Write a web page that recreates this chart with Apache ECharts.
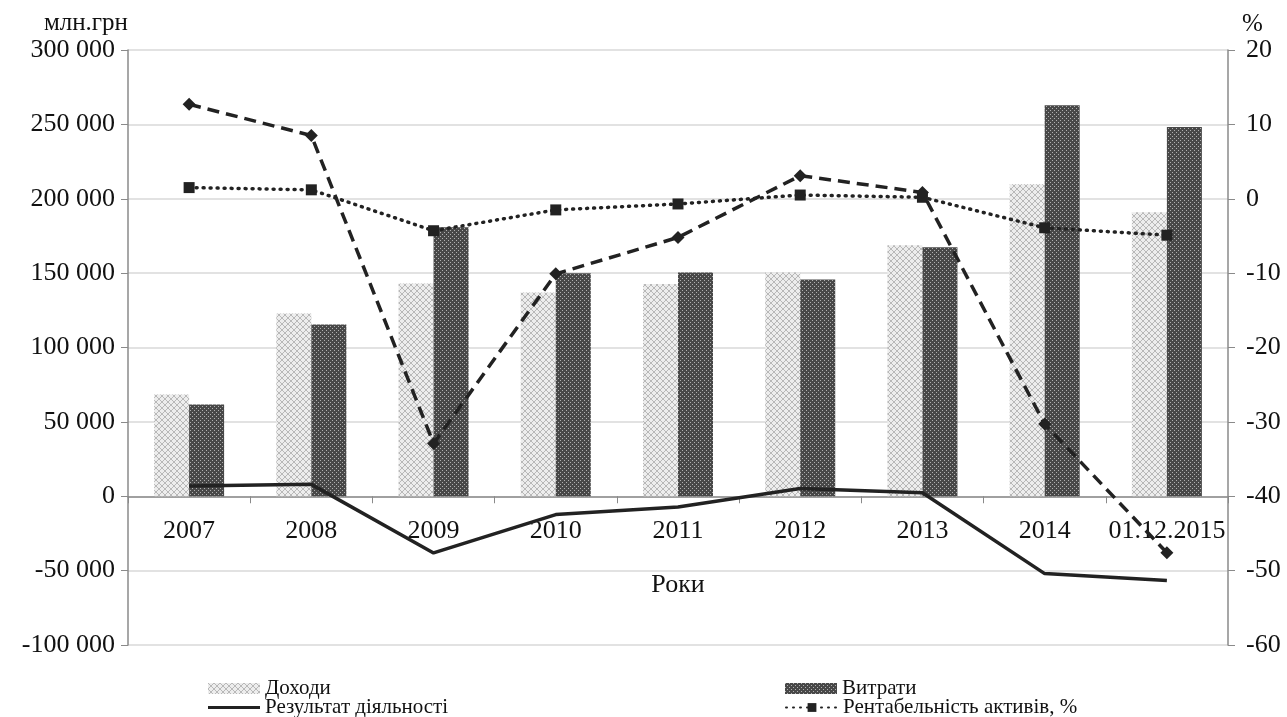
<!DOCTYPE html>
<html>
<head>
<meta charset="utf-8">
<script src="https://cdn.jsdelivr.net/npm/echarts@6/dist/echarts.min.js"></script>
<style>
html,body{margin:0;padding:0;background:#fff;}
#chart{width:1287px;height:717px;}
</style>
</head>
<body>
<div id="chart"></div>
<script>
// ---- data ----
var categories = ['2007','2008','2009','2010','2011','2012','2013','2014','01.12.2015'];
var incomes   = [68400, 122800, 143000, 136900, 142700, 150400, 168700, 209800, 191000];
var expenses  = [61700, 115400, 180800, 149900, 150400, 145700, 167400, 262900, 248200];
var result    = [6900, 8000, -38100, -12300, -7200, 5200, 2400, -52000, -56700];
var roa       = [1.5, 1.2, -4.3, -1.5, -0.7, 0.5, 0.2, -3.9, -4.9];
var roe       = [12.7, 8.5, -32.9, -10.1, -5.2, 3.1, 0.85, -30.3, -47.6];
var leftAxis  = {min: -100000, max: 300000, interval: 50000};
var rightAxis = {min: -60, max: 20, interval: 10};
var names = ['Доходи', 'Витрати', 'Результат діяльності', 'Рентабельність активів, %', 'Рентабельність капіталу, %'];

// ---- layout ----
var W = 1287, H = 717;
var gridBox = {left: 128, right: 59, top: 50, bottom: 72};
var gridH = H - gridBox.top - gridBox.bottom;
// x axis sits on the zero line of the left value axis
var zeroOffset = -gridH * (0 - leftAxis.min) / (leftAxis.max - leftAxis.min);

// ---- patterns ----
function lightPattern(){
  var c = document.createElement('canvas'); c.width = 6; c.height = 6;
  var g = c.getContext('2d');
  g.fillStyle = '#ededed'; g.fillRect(0,0,6,6);
  g.strokeStyle = '#b8b8b8'; g.lineWidth = 1;
  g.beginPath(); g.moveTo(0,0); g.lineTo(6,6); g.moveTo(6,0); g.lineTo(0,6); g.stroke();
  return c;
}
function darkPattern(){
  var c = document.createElement('canvas'); c.width = 4; c.height = 4;
  var g = c.getContext('2d');
  g.fillStyle = '#484848'; g.fillRect(0,0,4,4);
  g.fillStyle = '#b0b0b0';
  g.fillRect(0,0,1,1); g.fillRect(2,2,1,1);
  return c;
}
var lightFill = {image: lightPattern(), repeat: 'repeat'};
var darkFill = {image: darkPattern(), repeat: 'repeat'};

function fmt(v){
  var s = Math.abs(v).toString().replace(/\B(?=(\d{3})+(?!\d))/g, ' ');
  return (v < 0 ? '-' : '') + s;
}

var font = 'Liberation Serif, Times New Roman, serif';
var axisColor = '#8a8a8a';
var lineColor = '#222222';

function legendItem(item, left, top, h){
  return {
    data: [item], left: left, top: top, orient: 'horizontal',
    itemWidth: 52, itemHeight: h, itemGap: 6, padding: 0,
    textStyle: {fontFamily: font, fontSize: 21, color: '#111'}
  };
}

var chart = echarts.init(document.getElementById('chart'));
chart.setOption({
  backgroundColor: '#ffffff',
  animation: false,
  textStyle: {fontFamily: font},
  grid: {left: gridBox.left, right: gridBox.right, top: gridBox.top, bottom: gridBox.bottom,
         containLabel: false, outerBoundsMode: 'none'},
  legend: [
    legendItem({name: names[0], icon: 'rect'}, 208, 678, 11),
    legendItem({name: names[1], icon: 'rect'}, 785, 678, 11),
    legendItem({name: names[2], icon: 'rect'}, 208, 697, 3),
    legendItem({name: names[3]}, 785, 697, 11)
  ],
  xAxis: {
    type: 'category',
    data: categories,
    position: 'bottom',
    offset: zeroOffset,
    name: 'Роки',
    nameLocation: 'middle',
    nameGap: 76,
    nameTextStyle: {fontFamily: font, fontSize: 26, color: '#111'},
    axisLine: {onZero: false, lineStyle: {color: axisColor, width: 1.5}},
    axisTick: {show: true, length: 7, lineStyle: {color: axisColor}},
    axisLabel: {interval: 0, margin: 22, fontFamily: font, fontSize: 26, color: '#111'},
    splitLine: {show: false}
  },
  yAxis: [
    {
      type: 'value',
      min: leftAxis.min, max: leftAxis.max, interval: leftAxis.interval,
      name: 'млн.грн',
      nameLocation: 'end',
      nameGap: 14,
      nameTextStyle: {fontFamily: font, fontSize: 25, color: '#111', align: 'right'},
      axisLine: {show: true, onZero: false, lineStyle: {color: axisColor, width: 1.5}},
      axisTick: {show: true, length: 7, lineStyle: {color: axisColor}},
      axisLabel: {margin: 13, fontFamily: font, fontSize: 26, color: '#111', formatter: fmt},
      splitLine: {show: true, lineStyle: {color: '#d9d9d9', width: 1.5}}
    },
    {
      type: 'value',
      position: 'right',
      min: rightAxis.min, max: rightAxis.max, interval: rightAxis.interval,
      name: '%',
      nameLocation: 'end',
      nameGap: -6,
      nameTextStyle: {fontFamily: font, fontSize: 25, color: '#111', align: 'left', padding: [0, 0, 0, 14]},
      axisLine: {show: true, onZero: false, lineStyle: {color: axisColor, width: 1.5}},
      axisTick: {show: true, length: 7, lineStyle: {color: axisColor}},
      axisLabel: {margin: 18, fontFamily: font, fontSize: 26, color: '#111'},
      splitLine: {show: false}
    }
  ],
  series: [
    {
      name: names[0], type: 'bar', yAxisIndex: 0, data: incomes,
      barWidth: 35, barGap: '0%',
      itemStyle: {color: lightFill}, z: 2
    },
    {
      name: names[1], type: 'bar', yAxisIndex: 0, data: expenses,
      barWidth: 35, barGap: '0%',
      itemStyle: {color: darkFill}, z: 2
    },
    {
      name: names[2], type: 'line', yAxisIndex: 0, data: result,
      symbol: 'none', showSymbol: false,
      lineStyle: {color: lineColor, width: 3.5},
      itemStyle: {color: lineColor}, z: 5
    },
    {
      name: names[3], type: 'line', yAxisIndex: 1, data: roa,
      symbol: 'rect', symbolSize: 11,
      lineStyle: {color: lineColor, width: 3.5, type: [1, 6], cap: 'round'},
      itemStyle: {color: lineColor}, z: 6
    },
    {
      name: names[4], type: 'line', yAxisIndex: 1, data: roe,
      symbol: 'diamond', symbolSize: 13,
      lineStyle: {color: lineColor, width: 3.5, type: [12, 7]},
      itemStyle: {color: lineColor}, z: 6
    }
  ]
});
</script>
</body>
</html>
